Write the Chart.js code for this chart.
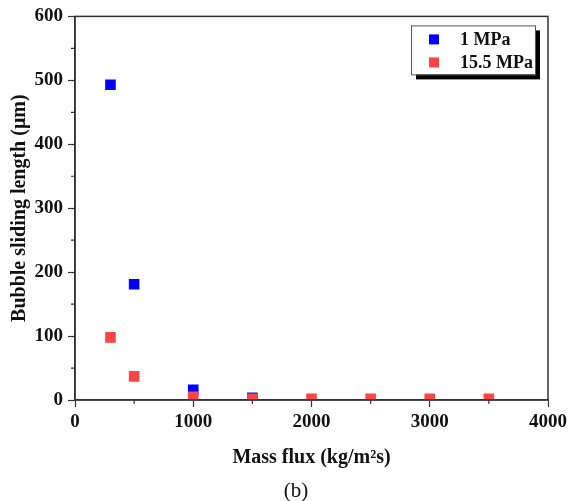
<!DOCTYPE html>
<html>
<head>
<meta charset="utf-8">
<script src="https://cdn.jsdelivr.net/npm/chart.js@4"></script>
<style>
html,body{margin:0;padding:0;background:#fff;}
#wrap{width:571px;height:501px;position:relative;}
</style>
</head>
<body>
<div id="wrap"><canvas id="c" width="571" height="501"></canvas></div>
<script>
const seriesNames = ['1 MPa', '15.5 MPa'];
const massFlux1 = [300, 500, 1000, 1500];
const sliding1 = [493, 181, 16, 3.5];
const massFlux2 = [300, 500, 1000, 1500, 2000, 2500, 3000, 3500];
const sliding2 = [98, 37, 5, 2, 2, 2, 2, 2];
const xTicks = [0, 1000, 2000, 3000, 4000];
const yTicks = [0, 100, 200, 300, 400, 500, 600];
const xMinor = [500, 1500, 2500, 3500];
const yMinor = [50, 150, 250, 350, 450, 550];
const colors = ['#0000ff', '#ff4444'];
const caption = '(b)';

const serif = "'Liberation Serif', 'Times New Roman', serif";
const axisColor = '#333333';

function pts(xs, ys){ return xs.map((x,i)=>({x:x, y:ys[i]})); }

const framePlugin = {
  id: 'frame',
  afterDraw(chart){
    const ctx = chart.ctx, a = chart.chartArea;
    const xs = chart.scales.x, ys = chart.scales.y;
    ctx.save();
    ctx.strokeStyle = axisColor;
    ctx.lineWidth = 1.5;
    ctx.strokeRect(a.left, a.top, a.right - a.left, a.bottom - a.top);
    // minor ticks
    ctx.lineWidth = 1.2;
    ctx.beginPath();
    xMinor.forEach(v=>{ const p = xs.getPixelForValue(v); ctx.moveTo(p, a.bottom); ctx.lineTo(p, a.bottom + 4); });
    yMinor.forEach(v=>{ const p = ys.getPixelForValue(v); ctx.moveTo(a.left, p); ctx.lineTo(a.left - 4, p); });
    ctx.stroke();
    // legend
    const bx = a.right - 137, by = a.top + 9, bw = 124, bh = 49;
    ctx.fillStyle = '#000';
    ctx.fillRect(bx + 5, by + 5, bw, bh);
    ctx.fillStyle = '#fff';
    ctx.fillRect(bx, by, bw, bh);
    ctx.strokeStyle = '#555';
    ctx.lineWidth = 1;
    ctx.strokeRect(bx + 0.5, by + 0.5, bw, bh);
    ctx.font = "bold 18px " + serif;
    ctx.textBaseline = 'middle';
    ctx.textAlign = 'left';
    chart.data.datasets.slice().sort((p,q)=>p.legendIndex-q.legendIndex).forEach((ds, i)=>{
      const cy = by + 14 + i * 23;
      ctx.fillStyle = ds.backgroundColor;
      ctx.fillRect(bx + 18, cy - 5, 10, 10);
      ctx.fillStyle = '#111';
      ctx.fillText(ds.label, bx + 49, cy + 1);
    });
    // caption
    ctx.font = "21px " + serif;
    ctx.textAlign = 'center';
    ctx.fillStyle = '#111';
    ctx.fillText(caption, 296, 491);
    ctx.restore();
  }
};

const tickFont = { family: serif, size: 19, weight: 'bold' };
const titleFont = { family: serif, size: 20, weight: 'bold' };

new Chart(document.getElementById('c'), {
  type: 'scatter',
  data: {
    datasets: [
      { label: seriesNames[1], legendIndex: 1, data: pts(massFlux2, sliding2), backgroundColor: colors[1], borderWidth: 0, pointStyle: 'rect', pointRadius: 7.5, pointHoverRadius: 7.5 },
      { label: seriesNames[0], legendIndex: 0, data: pts(massFlux1, sliding1), backgroundColor: colors[0], borderWidth: 0, pointStyle: 'rect', pointRadius: 7.5, pointHoverRadius: 7.5 }
    ]
  },
  options: {
    responsive: false,
    animation: false,
    events: [],
    layout: { padding: { left: 0, top: 16, right: 21, bottom: 0 } },
    plugins: {
      legend: { display: false },
      tooltip: { enabled: false },
      title: { display: false }
    },
    scales: {
      x: {
        type: 'linear', min: 0, max: 4000,
        afterBuildTicks: s => { s.ticks = xTicks.map(v=>({value:v})); },
        afterFit: s => { s.height = 101; },
        ticks: { color: '#111', font: tickFont, padding: 4, maxRotation: 0, callback: v => String(v) },
        grid: { drawOnChartArea: false, drawTicks: true, tickLength: 7, tickColor: axisColor, tickWidth: 1.2 },
        border: { display: true, color: axisColor, width: 1.5 },
        title: { display: true, text: 'Mass flux (kg/m²s)', color: '#111', font: titleFont, padding: { top: 0, bottom: 31 } }
      },
      y: {
        type: 'linear', min: 0, max: 600,
        afterBuildTicks: s => { s.ticks = yTicks.map(v=>({value:v})); },
        afterFit: s => { s.width = 75; },
        ticks: { color: '#111', font: tickFont, padding: 5, callback: v => String(v) },
        grid: { drawOnChartArea: false, drawTicks: true, tickLength: 7, tickColor: axisColor, tickWidth: 1.2 },
        border: { display: true, color: axisColor, width: 1.5 },
        title: { display: true, text: 'Bubble sliding length (μm)', color: '#111', font: titleFont, padding: { top: 8, bottom: 0 } }
      }
    }
  },
  plugins: [framePlugin]
});
</script>
</body>
</html>
